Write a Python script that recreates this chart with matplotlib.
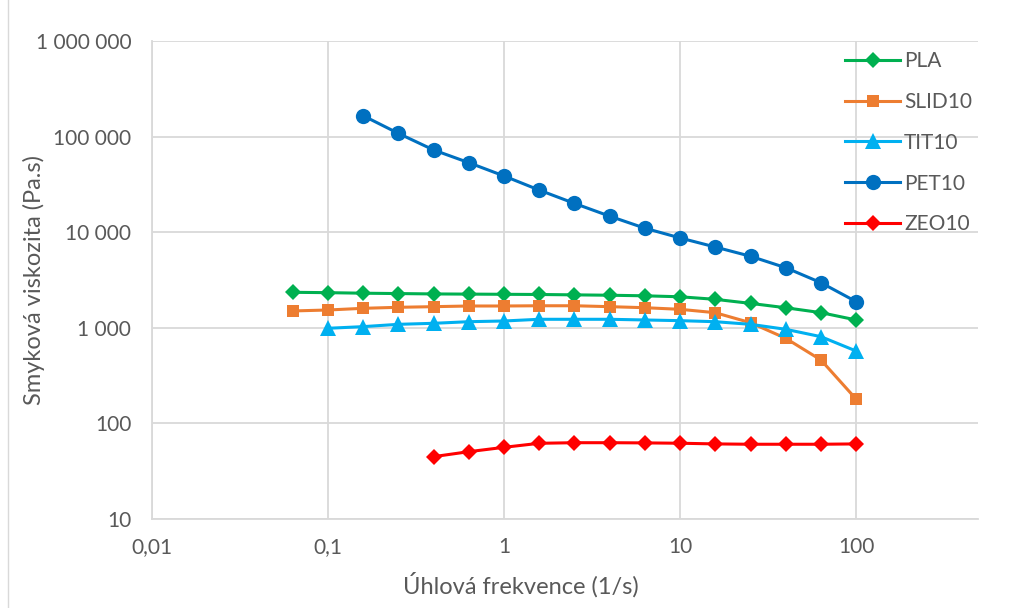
import numpy as np
import matplotlib.pyplot as plt
from matplotlib.ticker import FixedLocator, FuncFormatter, NullLocator
from matplotlib.lines import Line2D

plt.rcParams['font.family'] = ['Lato', 'DejaVu Sans']

# angular frequency, 5 points per decade (1/s)
freq = [0.0631, 0.1, 0.158, 0.251, 0.398, 0.631, 1.0, 1.58, 2.51,
        3.98, 6.31, 10.0, 15.8, 25.1, 39.8, 63.1, 100.0]

pla = [2350, 2330, 2300, 2280, 2260, 2250, 2240, 2230, 2210,
       2190, 2160, 2110, 1985, 1800, 1620, 1440, 1207]
slid10 = [1500, 1535, 1598, 1638, 1663, 1690, 1690, 1700, 1700,
          1663, 1622, 1560, 1439, 1130, 776, 460, 179]
tit10 = [988, 1028, 1087, 1114, 1158, 1178, 1227, 1227,
         1227, 1207, 1187, 1158, 1087, 964, 807, 571]
pet10 = [165600, 108000, 72400, 53300, 38700, 27600, 20000,
         14700, 11000, 8700, 7000, 5600, 4250, 2960, 1876]
zeo10 = [44.9, 50.6, 56.2, 61.9, 62.8, 62.8, 62.5, 62, 61, 60.5, 60.5, 60.5, 61]

series = [
    ("PLA", freq, pla, '#00B050', 'D', 8),
    ("SLID10", freq, slid10, '#ED7D31', 's', 8.5),
    ("TIT10", freq[1:], tit10, '#00B0F0', '^', 11),
    ("PET10", freq[2:], pet10, '#0070C0', 'o', 11),
    ("ZEO10", freq[4:], zeo10, '#FF0000', 'D', 8),
]

fig = plt.figure(figsize=(10.2, 6.08), dpi=100)
ax = fig.add_axes([0.149, 0.1464, 0.81, 0.7862])

for name, x, y, c, m, ms in series:
    ax.plot(x, y, color=c, lw=2.2, marker=m, markersize=ms,
            markeredgewidth=0, label=name)

ax.set_xscale('log')
ax.set_yscale('log')
ax.set_xlim(0.01, 493)
ax.set_ylim(10, 1e6)

ax.xaxis.set_major_locator(FixedLocator([0.01, 0.1, 1, 10, 100]))
ax.xaxis.set_minor_locator(NullLocator())
ax.yaxis.set_major_locator(FixedLocator([10, 100, 1e3, 1e4, 1e5, 1e6]))
ax.yaxis.set_minor_locator(NullLocator())
ax.xaxis.set_major_formatter(FuncFormatter(lambda v, p: f"{v:g}".replace('.', ',')))
ax.yaxis.set_major_formatter(FuncFormatter(lambda v, p: f"{int(round(v)):,}".replace(',', ' ')))

ax.grid(True, color='#D9D9D9', lw=1.3)
ax.set_axisbelow(True)
for s in ['top', 'right']:
    ax.spines[s].set_visible(False)
for s in ['left', 'bottom']:
    ax.spines[s].set_color('#D9D9D9')
    ax.spines[s].set_linewidth(1.3)
ax.tick_params(axis='y', length=0, labelsize=15, colors='#595959', pad=15)
ax.tick_params(axis='x', length=0, labelsize=15, colors='#595959', pad=13)

ax.set_xlabel("Úhlová frekvence (1/s)", fontsize=17, color='#595959')
ax.set_ylabel("Smyková viskozita (Pa.s)", fontsize=17, color='#595959')
ax.xaxis.set_label_coords(0.447, -0.112)
ax.yaxis.set_label_coords(-0.13, 0.5)

ax.legend(loc='upper left', bbox_to_anchor=(845 / 1020, 1 - 51 / 608),
          bbox_transform=fig.transFigure, frameon=False, borderpad=0,
          borderaxespad=0, fontsize=15, labelcolor='#595959',
          handlelength=2.64, handletextpad=0.2, labelspacing=1.0)

# chart area border on the left edge
fig.add_artist(Line2D([8 / 1020, 8 / 1020], [0, 1], transform=fig.transFigure,
                      color='#D9D9D9', lw=1))

fig.savefig('out.png', dpi=100)
